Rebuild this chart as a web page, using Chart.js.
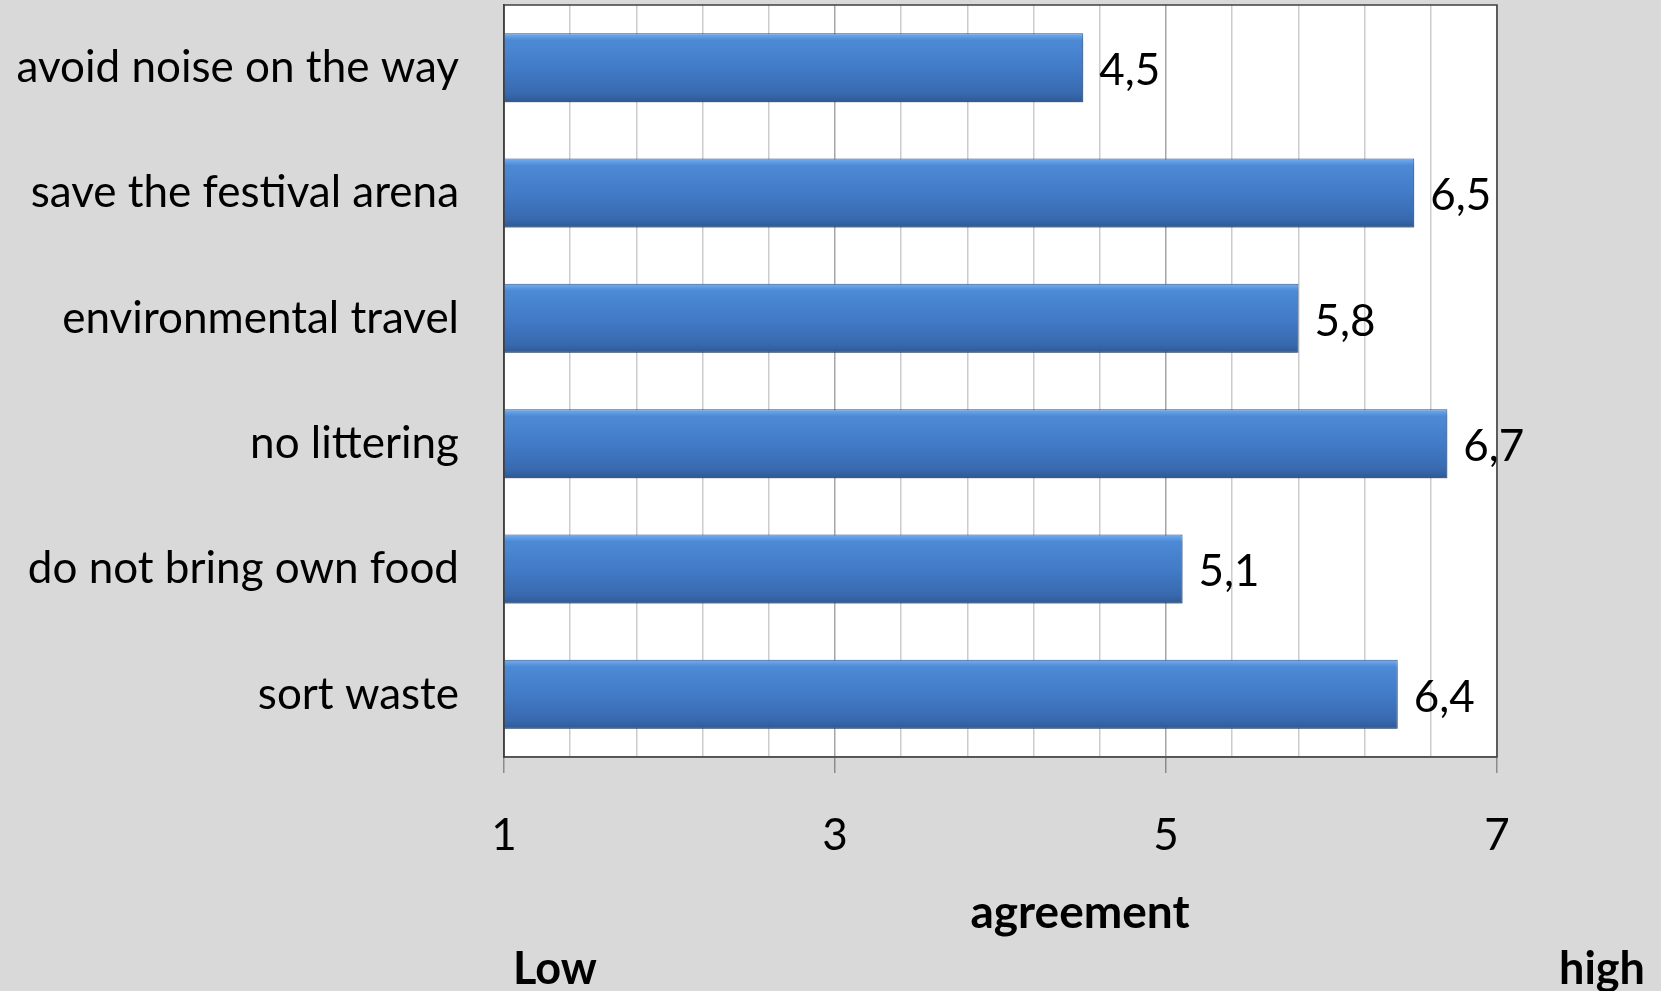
<!DOCTYPE html>
<html>
<head>
<meta charset="utf-8">
<script src="https://cdn.jsdelivr.net/npm/chart.js"></script>
<style>
  html, body { margin: 0; padding: 0; background: #d9d9d9; }
  #wrap { width: 1661px; height: 991px; }
</style>
</head>
<body>
<div id="wrap"><canvas id="myChart" width="1661" height="991"></canvas></div>
<script>
const categories = ['avoid noise on the way', 'save the festival arena', 'environmental travel', 'no littering', 'do not bring own food', 'sort waste'];
const agreement = [4.5, 6.5, 5.8, 6.7, 5.1, 6.4];
const tickLabels = [1, 3, 5, 7];
const axisTitle = 'agreement';
const lowLabel = 'Low';
const highLabel = 'high';

const FONT = 'Lato, "Open Sans", sans-serif';

const isMajor = v => tickLabels.some(t => Math.abs(t - v) < 1e-6);

// vertical gradient per bar, built from the y scale
function barFill(context) {
  const chart = context.chart;
  const y = chart.scales.y;
  if (!y || !chart.chartArea) return '#4279c6';
  const c = y.getPixelForValue(context.dataIndex);
  const h = (y.height / categories.length) * 0.55;
  const g = chart.ctx.createLinearGradient(0, c - h / 2, 0, c + h / 2);
  g.addColorStop(0, '#74aef0');
  g.addColorStop(0.1, '#4d8ad6');
  g.addColorStop(0.5, '#427bc8');
  g.addColorStop(0.88, '#3869ae');
  g.addColorStop(1, '#2e5893');
  return g;
}

const backgroundPlugin = {
  id: 'plotBg',
  beforeDraw(chart) {
    const { ctx, chartArea: a } = chart;
    ctx.save();
    ctx.fillStyle = '#ffffff';
    ctx.fillRect(a.left, a.top, a.right - a.left, a.bottom - a.top);
    ctx.restore();
  },
  beforeDatasetsDraw(chart) {
    const ctx = chart.ctx;
    ctx.save();
    ctx.shadowColor = 'rgba(0,0,0,0.35)';
    ctx.shadowBlur = 6;
    ctx.shadowOffsetY = 4;
    ctx.shadowOffsetX = 1;
  },
  afterDatasetsDraw(chart) {
    chart.ctx.restore();
  },
  afterDraw(chart) {
    const { ctx, chartArea: a } = chart;
    ctx.save();
    ctx.strokeStyle = '#404040';
    ctx.lineWidth = 1.5;
    ctx.strokeRect(a.left, a.top, a.right - a.left, a.bottom - a.top);

    // value labels
    ctx.fillStyle = '#000';
    ctx.font = '44px ' + FONT;
    ctx.textAlign = 'left';
    ctx.textBaseline = 'middle';
    const meta = chart.getDatasetMeta(0);
    meta.data.forEach((bar, i) => {
      ctx.fillText(String(agreement[i]).replace('.', ','), bar.x + 16, bar.y + 3);
    });

    // axis title and end labels
    ctx.font = 'bold 46px ' + FONT;
    ctx.textAlign = 'center';
    ctx.fillText(axisTitle, 1080, 913);
    ctx.font = 'bold 45px ' + FONT;
    ctx.textAlign = 'left';
    ctx.fillText(lowLabel, 513, 969);
    ctx.textAlign = 'right';
    ctx.fillText(highLabel, 1645, 969);
    ctx.restore();
  }
};

new Chart(document.getElementById('myChart').getContext('2d'), {
  type: 'bar',
  data: {
    labels: categories,
    datasets: [{
      data: agreement,
      backgroundColor: barFill,
      borderColor: '#2f5c9a',
      borderWidth: 1,
      borderSkipped: false,
      categoryPercentage: 1,
      barPercentage: 0.55
    }]
  },
  options: {
    indexAxis: 'y',
    responsive: false,
    animation: false,
    layout: { padding: { top: 5, right: 164, left: 0, bottom: 0 } },
    plugins: { legend: { display: false }, tooltip: { enabled: false } },
    scales: {
      x: {
        min: 1,
        max: 7,
        ticks: {
          stepSize: 0.4,
          autoSkip: false,
          maxRotation: 0,
          padding: 36,
          color: '#000',
          font: { family: FONT, size: 44 },
          callback: v => isMajor(v) ? String(Math.round(v)) : ''
        },
        grid: {
          color: ctx => isMajor(ctx.tick.value) ? '#a6a6a6' : '#cccccc',
          lineWidth: 1.5,
          tickLength: 16,
          tickColor: ctx => isMajor(ctx.tick.value) ? '#8c8c8c' : 'rgba(0,0,0,0)'
        },
        border: { color: '#8c8c8c', width: 1.5 },
        afterFit: s => { s.height = 234; }
      },
      y: {
        ticks: {
          padding: 45,
          color: '#000',
          font: { family: FONT, size: 44 }
        },
        grid: { display: false, drawTicks: false },
        border: { color: '#404040', width: 1.5 },
        afterFit: s => {
          s.width = 504;
          s.paddingTop = 0;
          s.paddingBottom = 0;
        }
      }
    }
  },
  plugins: [backgroundPlugin]
});
</script>
</body>
</html>
